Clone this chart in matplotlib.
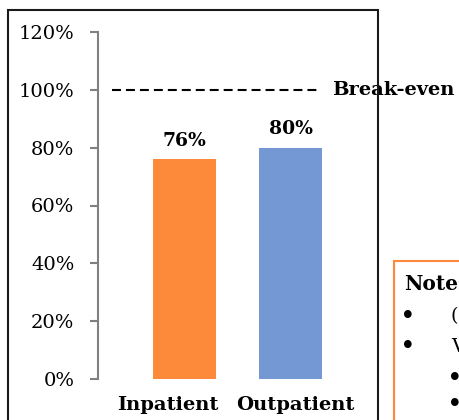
import matplotlib
matplotlib.use("Agg")
import matplotlib.pyplot as plt
from matplotlib.patches import Rectangle

plt.rcParams['font.family'] = ['DejaVu Serif']

categories = ["Inpatient", "Outpatient"]
ratios = [0.76, 0.80]
bar_colors = ["#FD8A3A", "#7398D4"]
yticks = [0, 0.2, 0.4, 0.6, 0.8, 1.0, 1.2]
breakeven = 1.0
# horizontal nudge of each category label, in pixels
label_shift = [-17, 5]

W, H = 460, 420
fig = plt.figure(figsize=(4.6, 4.2), dpi=100)

def fx(px):
    return px / W

def fy(py):
    return 1 - py / H

# outer black frame (runs off the bottom edge)
fig.patches.append(Rectangle((fx(8), fy(440)), fx(378) - fx(8), fy(10) - fy(440),
                             transform=fig.transFigure, fill=False,
                             edgecolor="#1a1a1a", lw=1.5, zorder=0))

ax = fig.add_axes([fx(98), fy(379), fx(377) - fx(98), fy(32) - fy(379)])
ax.set_facecolor("none")
x = list(range(len(categories)))
ax.bar(x, ratios, width=0.6, color=bar_colors, zorder=2)
ax.set_xlim(-0.816, 1.816)
ax.set_ylim(0, 1.2)
ax.set_yticks(yticks)
ax.set_yticklabels([f"{int(round(t * 100))}%" for t in yticks], fontsize=14)
ax.set_xticks([])
for s in ["top", "right", "bottom"]:
    ax.spines[s].set_visible(False)
ax.spines["left"].set_color("#808080")
ax.spines["left"].set_linewidth(1.5)
ax.tick_params(axis="y", length=6, width=1.5, color="#808080", pad=11)

for xi, cat, dx in zip(x, categories, label_shift):
    ax.annotate(cat, (xi, 0), xytext=(dx * 0.72, -19), textcoords="offset points",
                ha="center", va="center", fontsize=14, fontweight="bold",
                annotation_clip=False)

for xi, v in zip(x, ratios):
    ax.annotate(f"{int(round(v * 100))}%", (xi, v), xytext=(0, 7),
                textcoords="offset points", ha="center", va="bottom",
                fontsize=13.5, fontweight="bold")

ax.plot([-0.684, 1.297], [breakeven, breakeven], color="black", lw=1.5,
        dashes=(4.3, 2.4), clip_on=False, zorder=3)
ax.text(1.39, breakeven, "Break-even", ha="left", va="center", fontsize=14,
        fontweight="bold", clip_on=False, zorder=5,
        bbox=dict(facecolor="white", edgecolor="none", pad=9))

# notes box (cut off by the figure edge)
fig.patches.append(Rectangle((fx(394), fy(440)), fx(500) - fx(394), fy(261) - fy(440),
                             transform=fig.transFigure, facecolor="white",
                             edgecolor="#FD8A3A", lw=1.5, zorder=1))
fig.text(fx(404), fy(284), "Notes:", fontsize=14.5, fontweight="bold", va="center")
fig.text(fx(408), fy(316), "•", fontsize=19, ha="center", va="center")
fig.text(fx(451), fy(316), "(Cost / revenue)", fontsize=14, va="center")
fig.text(fx(408), fy(347), "•", fontsize=19, ha="center", va="center")
fig.text(fx(451), fy(347), "Values below 100%", fontsize=14, va="center")
fig.text(fx(455), fy(378), "•", fontsize=19, ha="center", va="center")
fig.text(fx(455), fy(405), "•", fontsize=19, ha="center", va="center")

fig.savefig("out.png", dpi=100)
